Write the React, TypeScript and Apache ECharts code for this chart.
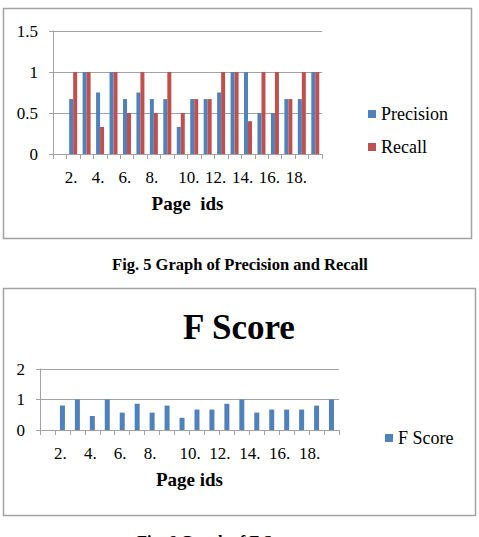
import React, { useEffect, useRef } from "react";
import * as echarts from "echarts";

const pageIds = ["1.", "2.", "3.", "4.", "5.", "6.", "7.", "8.", "9.", "10.", "11.", "12.", "13.", "14.", "15.", "16.", "17.", "18.", "19.", "20."];
const precision = [null, 0.67, 1, 0.75, 1, 0.67, 0.75, 0.67, 0.67, 0.33, 0.67, 0.67, 0.75, 1, 1, 0.5, 0.5, 0.67, 0.67, 1];
const recall = [null, 1, 1, 0.33, 1, 0.5, 1, 0.5, 1, 0.5, 0.67, 0.67, 1, 1, 0.4, 1, 1, 0.67, 1, 1];
const fScore = [null, 0.8, 1, 0.46, 1, 0.57, 0.86, 0.57, 0.8, 0.4, 0.67, 0.67, 0.86, 1, 0.57, 0.67, 0.67, 0.67, 0.8, 1];

const FONT = "'Liberation Serif', 'Times New Roman', serif";
const GRAY = "#a3a3a3";
const BLUE = "#4F81BD";
const RED = "#C0504D";

function makeX(gridIndex: number, name: string) {
  return {
    type: "category",
    gridIndex,
    data: pageIds,
    axisLine: { show: true, lineStyle: { color: GRAY, width: 1 } },
    axisTick: { show: true, interval: 0, length: 5, lineStyle: { color: GRAY } },
    axisLabel: {
      interval: (i: number) => i % 2 === 1 && i < 19,
      margin: 15,
      fontSize: 17,
      fontFamily: FONT,
      color: "#000",
      formatter: (v: string) => (v.length > 2 ? `{d|${v}}` : `{s|${v}}`),
      rich: {
        s: { fontSize: 17, fontFamily: FONT, color: "#000", padding: [0, 4, 0, 0] },
        d: { fontSize: 17, fontFamily: FONT, color: "#000", padding: [0, 0, 0, 16] },
      },
    },
    name,
    nameLocation: "middle",
    nameGap: 40,
    nameTextStyle: { fontWeight: "bold", fontSize: 19, fontFamily: FONT, color: "#000" },
  };
}

function makeY(gridIndex: number, max: number, interval: number) {
  return {
    type: "value",
    gridIndex,
    min: 0,
    max,
    interval,
    axisLine: { show: true, lineStyle: { color: GRAY, width: 1 } },
    axisTick: { show: true, length: 4, lineStyle: { color: GRAY } },
    splitLine: { show: true, lineStyle: { color: GRAY, width: 1 } },
    axisLabel: { margin: 15, fontSize: 17, fontFamily: FONT, color: "#000" },
  };
}

export default function App() {
  const ref = useRef<HTMLDivElement>(null);
  useEffect(() => {
    if (!ref.current) return;
    const chart = echarts.init(ref.current, null, { renderer: "svg" });
    chart.setOption({
      animation: false,
      backgroundColor: "#ffffff",
      grid: [
        { left: 53, top: 31, width: 269, height: 123 },
        { left: 40, top: 369, width: 299, height: 61 },
      ],
      xAxis: [makeX(0, "Page  ids"), makeX(1, "Page ids")],
      yAxis: [makeY(0, 1.5, 0.5), makeY(1, 2, 1)],
      legend: [
        {
          data: ["Precision", "Recall"],
          orient: "vertical",
          left: 363,
          top: 100,
          itemWidth: 8,
          itemHeight: 8,
          itemGap: 15,
          icon: "rect",
          textStyle: { fontSize: 18, lineHeight: 18, fontFamily: FONT, color: "#000" },
        },
        {
          data: ["F Score"],
          orient: "vertical",
          left: 380,
          top: 424,
          itemWidth: 8,
          itemHeight: 8,
          icon: "rect",
          textStyle: { fontSize: 18, lineHeight: 18, fontFamily: FONT, color: "#000" },
        },
      ],
      series: [
        { name: "Precision", type: "bar", xAxisIndex: 0, yAxisIndex: 0, data: precision, barWidth: 4, barGap: "0%", itemStyle: { color: BLUE } },
        { name: "Recall", type: "bar", xAxisIndex: 0, yAxisIndex: 0, data: recall, barWidth: 4, barGap: "0%", itemStyle: { color: RED } },
        { name: "F Score", type: "bar", xAxisIndex: 1, yAxisIndex: 1, data: fScore, barWidth: 5, itemStyle: { color: BLUE } },
      ],
      graphic: [
        { type: "rect", shape: { x: 3.5, y: 8.5, width: 468, height: 230 }, style: { fill: "none", stroke: GRAY, lineWidth: 1.5 }, z: 0 },
        { type: "rect", shape: { x: 3.5, y: 288.5, width: 472, height: 227 }, style: { fill: "none", stroke: GRAY, lineWidth: 1.5 }, z: 0 },
        {
          type: "text",
          x: 240,
          y: 264.5,
          style: { text: "Fig. 5 Graph of Precision and Recall", font: `bold 16.5px ${FONT}`, fill: "#000", textAlign: "center", textVerticalAlign: "middle" },
        },
        {
          type: "text",
          x: 239,
          y: 327,
          style: { text: "F Score", font: `bold 35px ${FONT}`, fill: "#000", textAlign: "center", textVerticalAlign: "middle" },
        },
        {
          type: "text",
          x: 137,
          y: 541.5,
          style: { text: "Fig. 6 Graph of F Score", font: `bold 16.5px ${FONT}`, fill: "#000", textAlign: "left", textVerticalAlign: "middle" },
        },
      ],
    });
    return () => chart.dispose();
  }, []);
  return <div ref={ref} style={{ position: "absolute", left: 0, top: 0, width: 479, height: 537 }} />;
}
